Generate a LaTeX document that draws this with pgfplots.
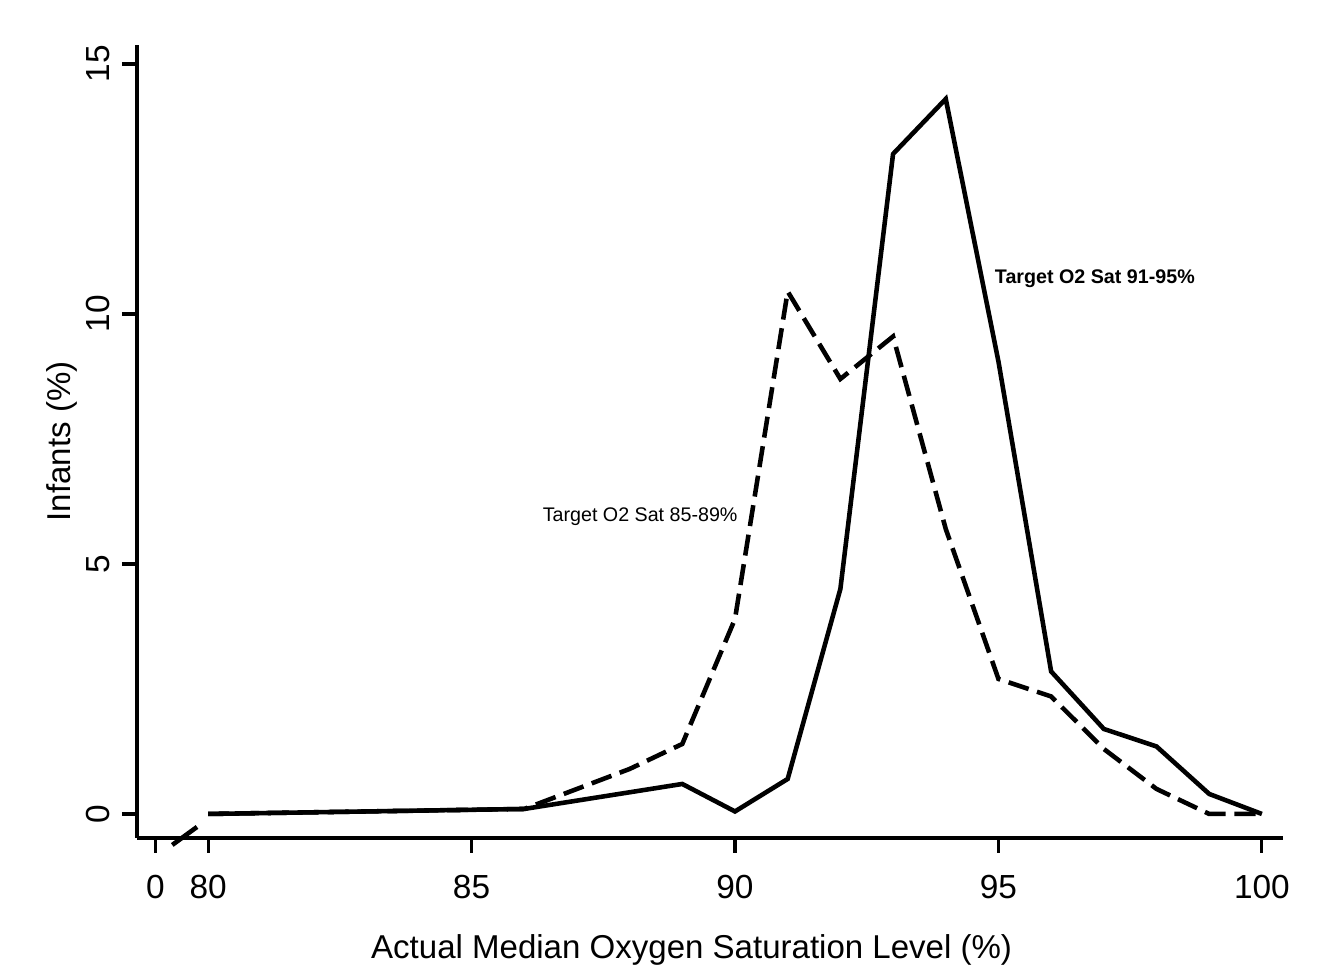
\documentclass[border=0pt]{standalone}
\usepackage{fontspec}
\setmainfont{Liberation Sans}
\usepackage{pgfplots}
\pgfplotsset{compat=1.18}
\begin{document}
\begin{tikzpicture}
\begin{axis}[
  scale only axis,
  width=11.46cm, height=7.93cm,
  xmin=78.65, xmax=100.4,
  ymin=-0.48, ymax=15.38,
  axis x line*=bottom, axis y line*=left,
  axis line style={line width=0.9pt},
  xtick={79,80,85,90,95,100},
  xticklabels={0,80,85,90,95,100},
  ytick={0,5,10,15},
  tick align=outside,
  major tick length=0.15cm,
  tick style={line width=0.9pt, black},
  every tick label/.append style={font=\fontsize{9.5}{11}\selectfont},
  xticklabel style={yshift=-0.1cm},
  yticklabel style={rotate=90, anchor=south, xshift=0cm},
  /pgf/number format/assume math mode=true,
  xlabel={Actual Median Oxygen Saturation Level (\%)},
  ylabel={Infants (\%)},
  label style={font=\fontsize{9.4}{11}\selectfont},
  xlabel style={at={(rel axis cs:0.484,-0.141)}, anchor=center},
  ylabel style={at={(rel axis cs:-0.0654,0.5)}, anchor=center, rotate=0},
  clip=false,
]
\path (rel axis cs:-0.1195,-0.169) rectangle (rel axis cs:1.0323,1.0567);
% Target 91-95
\addplot[black, line width=1.3pt] coordinates {
(80,0) (86,0.1) (89,0.6) (90,0.05) (91,0.7) (92,4.5) (93,13.2) (94,14.3)
(95,9.05) (96,2.85) (97,1.7) (98,1.35) (99,0.4) (100,0)};
% Target 85-89
\addplot[black, line width=1.3pt, dash pattern=on 6pt off 2.5pt] coordinates {
(80,0) (86,0.1) (87,0.5) (88,0.9) (89,1.4) (90,3.9) (91,10.45) (92,8.7)
(93,9.55) (94,5.7) (95,2.7) (96,2.35) (97,1.3) (98,0.5) (99,0) (100,0)};
\draw[black, line width=1.3pt] (axis cs:79.32,-0.62) -- (axis cs:79.79,-0.26);
\node[font=\fontsize{5.6}{7}\selectfont\bfseries] at (axis cs:96.83,10.7) {Target O2 Sat 91-95\%};
\node[font=\fontsize{5.6}{7}\selectfont] at (axis cs:88.2,5.95) {Target O2 Sat 85-89\%};
\end{axis}
\end{tikzpicture}
\end{document}
